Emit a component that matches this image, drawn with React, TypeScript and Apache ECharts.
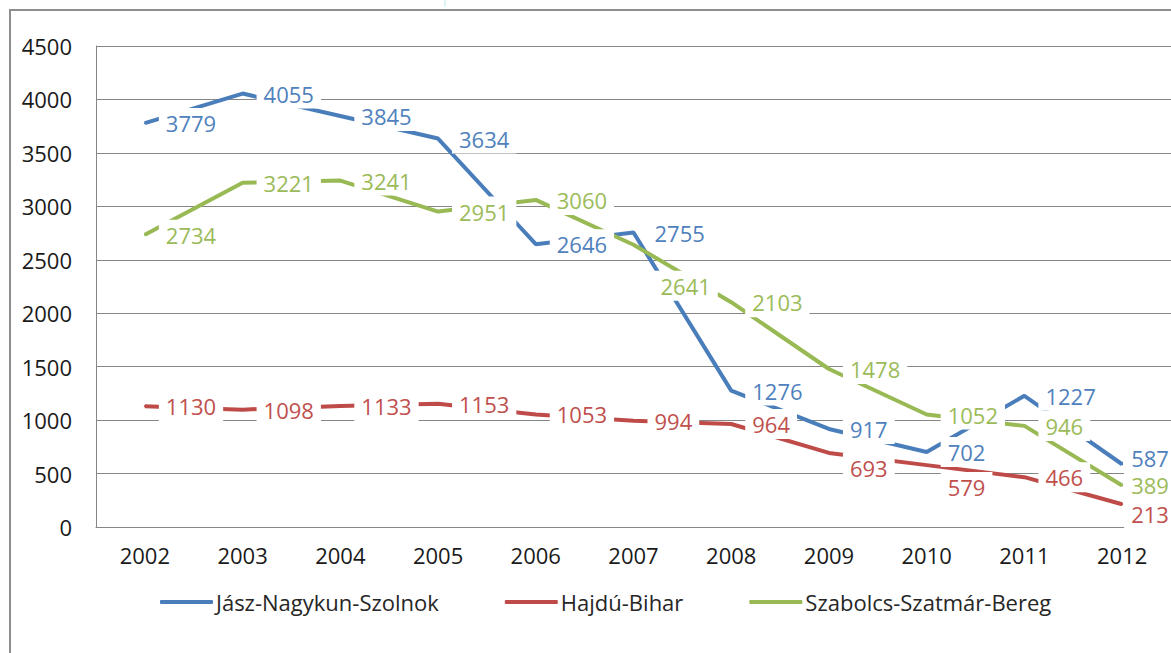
import React, { useEffect, useRef } from "react";
import * as echarts from "echarts";

const years = ["2002", "2003", "2004", "2005", "2006", "2007", "2008", "2009", "2010", "2011", "2012"];
const jaszNagykunSzolnok = [3779, 4055, 3845, 3634, 2646, 2755, 1276, 917, 702, 1227, 587];
const hajduBihar = [1130, 1098, 1133, 1153, 1053, 994, 964, 693, 579, 466, 213];
const szabolcsSzatmarBereg = [2734, 3221, 3241, 2951, 3060, 2641, 2103, 1478, 1052, 946, 389];
const seriesNames = ["Jász-Nagykun-Szolnok", "Hajdú-Bihar", "Szabolcs-Szatmár-Bereg"];

// label nudges (pixels) for individual points, as placed in the reference
const jaszLabelNudge: Record<number, [number, number]> = { 10: [-12, -6] };
const hajduLabelNudge: Record<number, [number, number]> = { 7: [0, 15], 8: [0, 22], 10: [-12, 10] };
const szabolcsLabelNudge: Record<number, [number, number]> = { 5: [6, 41], 10: [-12, 0] };

const FONT = "Open Sans";
const FS = 22;

function build(values: number[], nudge: Record<number, [number, number]>) {
  return values.map((v, i) => (nudge[i] ? { value: v, label: { offset: nudge[i] } } : { value: v }));
}

export default function App() {
  const ref = useRef<HTMLDivElement>(null);
  useEffect(() => {
    if (!ref.current) return;
    const chart = echarts.init(ref.current, undefined, { renderer: "svg" });
    const lineColors = ["#4A7EBB", "#BE4B48", "#98B954"];
    const labelColors = ["#4F81BD", "#C0504D", "#9BBB59"];
    const datasets = [
      build(jaszNagykunSzolnok, jaszLabelNudge),
      build(hajduBihar, hajduLabelNudge),
      build(szabolcsSzatmarBereg, szabolcsLabelNudge),
    ];
    chart.setOption({
      animation: false,
      backgroundColor: "#ffffff",
      textStyle: { fontFamily: FONT },
      grid: { left: 96, right: 0, top: 46, bottom: 126, containLabel: false },
      xAxis: {
        type: "category",
        data: years,
        boundaryGap: true,
        axisLine: { show: true, lineStyle: { color: "#868686", width: 1 } },
        axisTick: { show: false },
        axisLabel: { color: "#1a1a1a", fontSize: FS, fontFamily: FONT, margin: 17 },
      },
      yAxis: {
        type: "value",
        min: 0,
        max: 4500,
        interval: 500,
        axisLine: { show: true, lineStyle: { color: "#868686", width: 1 } },
        axisTick: { show: false },
        splitLine: { show: true, lineStyle: { color: "#868686", width: 1 } },
        axisLabel: {
          color: "#1a1a1a",
          fontSize: FS,
          fontFamily: FONT,
          margin: 24,
          formatter: (v: number) => String(v),
        },
      },
      legend: {
        data: seriesNames,
        left: 155,
        top: 586,
        icon: "roundRect",
        itemWidth: 53,
        itemHeight: 4,
        itemGap: 66,
        textStyle: { color: "#262626", fontSize: FS, fontFamily: FONT, padding: [0, 0, 0, -2] },
      },
      graphic: [
        {
          type: "rect",
          shape: { x: 10, y: 10, width: 1200, height: 700 },
          style: { fill: "none", stroke: "#8e8e8e", lineWidth: 2 },
          silent: true,
          z: 0,
        },
        {
          type: "line",
          shape: { x1: 445, y1: 0, x2: 445, y2: 7 },
          style: { stroke: "#d2f2f0", lineWidth: 1.5 },
          silent: true,
        },
      ],
      series: datasets.map((d, k) => ({
        name: seriesNames[k],
        type: "line",
        data: d,
        symbol: "circle",
        symbolSize: 2,
        showSymbol: true,
        itemStyle: { color: lineColors[k] },
        lineStyle: { color: lineColors[k], width: 4 },
        label: {
          show: true,
          position: "right",
          distance: 13,
          color: labelColors[k],
          fontSize: FS,
          fontFamily: FONT,
          backgroundColor: "#ffffff",
          padding: [4, 7, 4, 7],
        },
      })),
    });
    return () => chart.dispose();
  }, []);
  return (
    <div
      ref={ref}
      style={{ position: "fixed", left: 0, top: 0, width: 1171, height: 653, background: "#fff" }}
    />
  );
}
